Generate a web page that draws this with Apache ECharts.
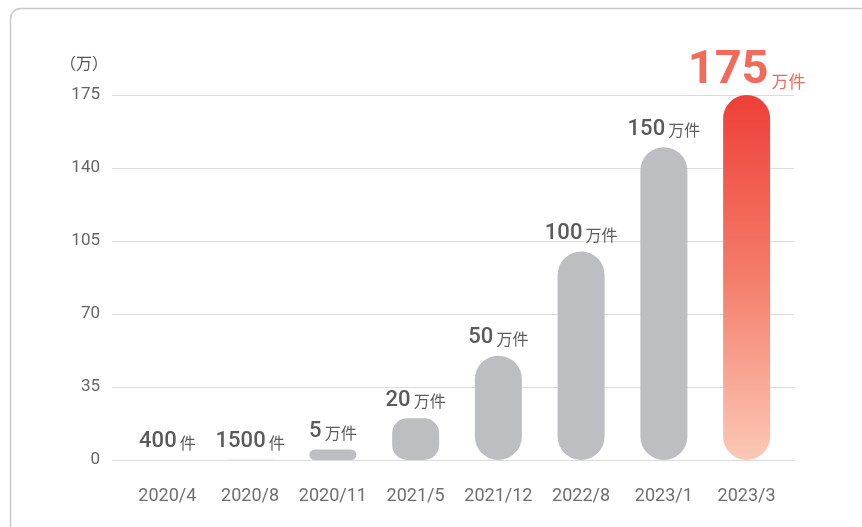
<!DOCTYPE html>
<html>
<head>
<meta charset="utf-8">
<script src="https://cdn.jsdelivr.net/npm/echarts@6/dist/echarts.min.js"></script>
<style>
  html, body { margin: 0; padding: 0; background: #fff; }
  #chart { width: 862px; height: 527px; }
</style>
</head>
<body>
<div id="chart"></div>
<script>
// 数据（单位：万件）
const categories = ['2020/4', '2020/8', '2020/11', '2021/5', '2021/12', '2022/8', '2023/1', '2023/3'];
const values = [0.04, 0.15, 5, 20, 50, 100, 150, 175];
const labelNums = ['400', '1500', '5', '20', '50', '100', '150', '175'];
const labelUnits = ['件', '件', '万件', '万件', '万件', '万件', '万件', '万件'];
const yTicks = [0, 35, 70, 105, 140, 175];

const numFont = 'Roboto, sans-serif';
const cjkFont = '"Noto Sans CJK SC", sans-serif';
const last = values.length - 1;

const chart = echarts.init(document.getElementById('chart'));

const barData = values.map((v, i) => {
    if (i === 3) {
        // 20万的柱子比较矮，圆角小一点
        return { value: v, itemStyle: { borderRadius: 15 } };
    }
    if (i !== last) return v;
    // 最后一根柱子用红色渐变
    return {
        value: v,
        itemStyle: {
            color: new echarts.graphic.LinearGradient(0, 0, 0, 1, [
                { offset: 0, color: '#ee3f38' },
                { offset: 0.5, color: '#f47d6a' },
                { offset: 1, color: '#fcc8b6' }
            ])
        },
        label: {
            formatter: '{big|' + labelNums[i] + '}{bu|' + labelUnits[i] + '}',
            distance: 0
        }
    };
});

const option = {
    animation: false,
    graphic: [{
        type: 'rect',
        shape: { x: 10.5, y: 8.5, width: 900, height: 600, r: 10 },
        style: { fill: 'none', stroke: '#c9c9c9', lineWidth: 1.5 },
        silent: true
    }],
    grid: [
        // 网格线和y轴
        { left: 112, right: 68, top: 95, bottom: 67 },
        // 柱子
        { left: 126, right: 74, top: 95, bottom: 67 }
    ],
    xAxis: [
        { gridIndex: 0, type: 'category', data: categories, show: false },
        {
            gridIndex: 1,
            type: 'category',
            data: categories,
            axisLine: { show: false },
            axisTick: { show: false },
            axisLabel: {
                interval: 0,
                margin: 27,
                color: '#6f6f6f',
                fontSize: 18,
                fontFamily: numFont
            }
        }
    ],
    yAxis: [
        {
            gridIndex: 0,
            type: 'value',
            min: yTicks[0],
            max: yTicks[yTicks.length - 1],
            interval: 35,
            name: '（万）',
            nameLocation: 'end',
            nameGap: 24,
            nameTextStyle: {
                color: '#555',
                fontSize: 16,
                fontFamily: cjkFont,
                align: 'right',
                padding: [0, 4, 0, 0]
            },
            axisLine: { show: false },
            axisTick: { show: false },
            axisLabel: {
                margin: 12,
                color: '#666',
                fontSize: 17,
                fontFamily: numFont
            },
            splitLine: { lineStyle: { color: '#dcdcdc', width: 1.2 } }
        },
        {
            gridIndex: 1,
            type: 'value',
            min: yTicks[0],
            max: yTicks[yTicks.length - 1],
            interval: 35,
            show: false,
            splitLine: { show: false }
        }
    ],
    series: [{
        type: 'bar',
        xAxisIndex: 1,
        yAxisIndex: 1,
        data: barData,
        barWidth: 47,
        itemStyle: {
            color: '#bdbec2',
            borderRadius: 24
        },
        label: {
            show: true,
            position: 'top',
            distance: 7,
            formatter: (p) => '{n|' + labelNums[p.dataIndex] + '}{u|' + labelUnits[p.dataIndex] + '}',
            rich: {
                n: {
                    fontFamily: numFont,
                    fontWeight: 500,
                    fontSize: 22,
                    color: '#5a5a5a',
                    padding: [0, 3, 0, 0]
                },
                u: {
                    fontFamily: cjkFont,
                    fontSize: 16,
                    color: '#5e5e5e',
                    verticalAlign: 'bottom',
                    padding: [0, 0, 2, 0]
                },
                big: {
                    fontFamily: numFont,
                    fontWeight: 'bold',
                    fontSize: 47,
                    color: '#f26a5a',
                    padding: [0, 3, 0, 0]
                },
                bu: {
                    fontFamily: cjkFont,
                    fontSize: 17,
                    color: '#f26a5a',
                    verticalAlign: 'bottom',
                    padding: [0, 0, 5, 0]
                }
            }
        }
    }]
};

chart.setOption(option);
</script>
</body>
</html>
